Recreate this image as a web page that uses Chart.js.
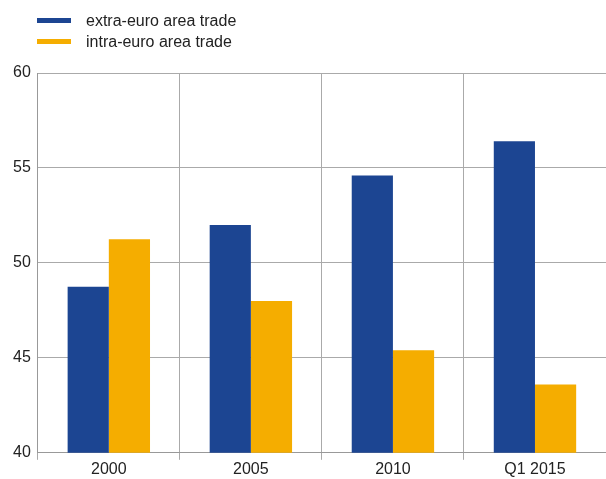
<!DOCTYPE html>
<html>
<head>
<meta charset="utf-8">
<script src="https://cdn.jsdelivr.net/npm/chart.js@4/dist/chart.umd.min.js"></script>
<style>
    body { margin: 0; background: #fff; }
    #wrap { position: relative; width: 606px; height: 479px; }
    #legend { position: absolute; left: 37px; top: 10px; font: 16px "Liberation Sans", Arial, sans-serif; color: #222; }
    .item { height: 21px; line-height: 21px; white-space: nowrap; }
    .swatch { display: inline-block; width: 34px; height: 5px; vertical-align: middle; margin-right: 15px; position: relative; top: -1px; }
</style>
</head>
<body>
<div id="wrap">
    <div id="legend"></div>
    <canvas id="tradeChart" width="606" height="479"></canvas>
</div>
<script>
// данные с картинки
const categories = ['2000', '2005', '2010', 'Q1 2015'];
const extraEuro = [48.75, 52.0, 54.6, 56.4];
const intraEuro = [51.25, 48.0, 45.4, 43.6];
const seriesNames = ['extra-euro area trade', 'intra-euro area trade'];
const seriesColors = ['#1c4592', '#f5ad00'];

const fontFamily = '"Liberation Sans", Arial, sans-serif';

const datasets = [extraEuro, intraEuro].map((values, i) => ({
    label: seriesNames[i],
    data: values,
    backgroundColor: seriesColors[i],
    borderWidth: 0,
    categoryPercentage: 0.58,
    barPercentage: 1.0
}));

// легенда в две строки, как на оригинале
const legend = document.getElementById('legend');
datasets.forEach(ds => {
    const row = document.createElement('div');
    row.className = 'item';
    const sw = document.createElement('span');
    sw.className = 'swatch';
    sw.style.background = ds.backgroundColor;
    row.appendChild(sw);
    row.appendChild(document.createTextNode(ds.label));
    legend.appendChild(row);
});

const ctx = document.getElementById('tradeChart').getContext('2d');
const chart = new Chart(ctx, {
    type: 'bar',
    data: {
        labels: categories,
        datasets: datasets
    },
    options: {
        responsive: false,
        animation: false,
        layout: { padding: { top: 73, left: 6, right: 0, bottom: 0 } },
        plugins: {
            legend: { display: false },
            tooltip: { enabled: false }
        },
        scales: {
            x: {
                grid: { color: '#aaaaaa', lineWidth: 1, offset: true, tickLength: 7 },
                border: { color: '#999999' },
                ticks: { color: '#222', font: { family: fontFamily, size: 16 }, padding: 0 }
            },
            y: {
                min: 40,
                max: 60,
                grid: { color: '#aaaaaa', lineWidth: 1, drawTicks: false },
                border: { color: '#999999' },
                ticks: { stepSize: 5, color: '#222', font: { family: fontFamily, size: 16 }, padding: 7 }
            }
        }
    }
});
</script>
</body>
</html>
